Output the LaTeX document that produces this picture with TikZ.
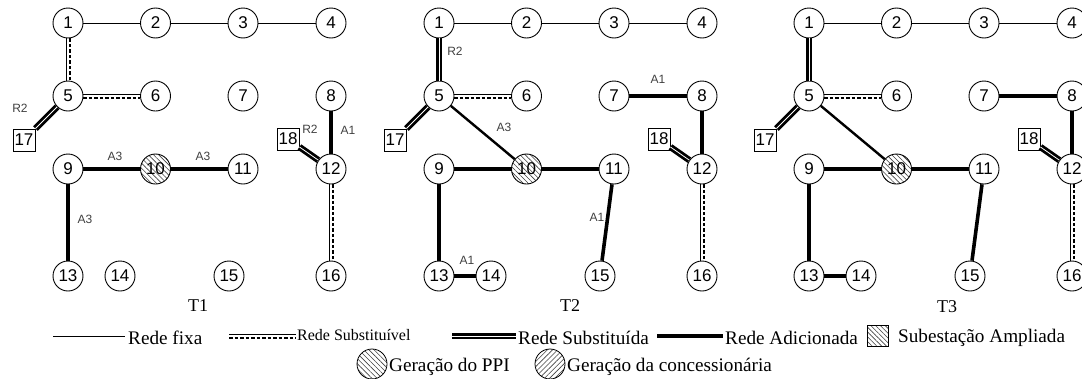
\documentclass[tikz,border=0pt]{standalone}
\usepackage{fontspec}
\setmainfont{Liberation Serif}
\newfontfamily\numfont{Liberation Sans}
\usetikzlibrary{patterns.meta}

\tikzset{
  bus/.style={circle, draw, line width=0.9pt, minimum size=30pt, inner sep=0pt,
    font=\numfont\fontsize{17}{17}\selectfont},
  ppibus/.style={bus, pattern={Lines[angle=-45,distance=3.6pt,line width=0.6pt]},
    pattern color=black!75},
  subbox/.style={rectangle, draw, line width=0.9pt, minimum size=22pt, inner sep=0pt,
    font=\numfont\fontsize{17}{17}\selectfont},
  fixed/.style={line width=1pt},
  added/.style={line width=3.6pt},
  addedlight/.style={line width=2.4pt},
  % two heavy strokes with a thin white gap between them
  replaced/.style={line width=6.4pt, postaction={draw=white, line width=0.8pt}},
  swapthin/.style={line width=1pt},
  swapdash/.style={line width=2.6pt, dash pattern=on 3.5pt off 2pt},
  lbl/.style={font=\numfont\fontsize{12}{12}\selectfont, text=black!75, inner sep=0pt},
  ttl/.style={font=\fontsize{18}{18}\selectfont, inner sep=0pt},
  legtext/.style={font=\fontsize{19.2}{20}\selectfont, inner sep=0pt, anchor=west},
  legsymbol/.style={draw, line width=0.8pt, inner sep=0pt, pattern color=black!75},
}

% bus layout shared by the three stages
\newcommand\placebuses{%
  \node[bus] (1) at (0,23) {1};
  \node[bus] (2) at (87.5,23) {2};
  \node[bus] (3) at (175,23) {3};
  \node[bus] (4) at (263,23) {4};
  \node[bus] (5) at (0,96) {5};
  \node[bus] (6) at (87.5,96) {6};
  \node[bus] (7) at (175,96) {7};
  \node[bus] (8) at (263,96) {8};
  \node[bus] (9) at (0,169) {9};
  \node[ppibus] (10) at (87.5,169) {10};
  \node[bus] (11) at (175,169) {11};
  \node[bus] (12) at (263,169) {12};
  \node[bus] (13) at (0,276) {13};
  \node[bus] (14) at (52,276) {14};
  \node[bus] (15) at (161,276) {15};
  \node[bus] (16) at (263,276) {16};
  \node[subbox] (17) at (-44,140) {17};
  \node[subbox] (18) at (220,139) {18};
}

% lines common to every stage
\newcommand\commonlines{%
  \draw[fixed] (1) -- (2);
  \draw[fixed] (2) -- (3);
  \draw[fixed] (3) -- (4);
  \draw[swapthin] ([yshift=2pt]5.east) -- ([yshift=2pt]6.west);
  \draw[swapdash] ([yshift=-2pt]5.east) -- ([yshift=-2pt]6.west);
  \draw[replaced] (5) -- (17);
  \draw[replaced] (18) -- (12);
  \draw[added] (9) -- (10);
  \draw[added] (10) -- (11);
  \draw[added] (9) -- (13);
  \draw[swapthin] ([xshift=-2pt]12.south) -- ([xshift=-2pt]16.north);
  \draw[swapdash] ([xshift=2pt]12.south) -- ([xshift=2pt]16.north);
}

% lines added from the second stage on
\newcommand\laterlines{%
  \draw[replaced] (1) -- (5);
  \draw[addedlight] (5) -- (10);
  \draw[added] (7) -- (8);
  \draw[added] (8) -- (12);
  \draw[added] (11) -- (15);
  \draw[added] (13) -- (14);
}

\begin{document}
\begin{tikzpicture}[x=1pt, y=-1pt]
\useasboundingbox (0,0) rectangle (1082,378);

% ---- stage T1
\begin{scope}[shift={(68,0)}, name prefix=a-]
  \placebuses
  \commonlines
  \draw[swapthin] ([xshift=-2pt]1.south) -- ([xshift=-2pt]5.north);
  \draw[swapdash] ([xshift=2pt]1.south) -- ([xshift=2pt]5.north);
  \draw[added] (8) -- (12);
  \node[lbl] (r1) at (-48,108) {R2};
  \node[lbl] (r2) at (242,129) {R2};
  \node[lbl] (e1) at (280,130) {A1};
  \node[lbl] (e2) at (47,156) {A3};
  \node[lbl] (e3) at (135,156) {A3};
  \node[lbl] (e4) at (17,219) {A3};
  \node[ttl] (t) at (130,306) {T1};
\end{scope}

% ---- stage T2
\begin{scope}[shift={(439,0)}, name prefix=b-]
  \placebuses
  \commonlines
  \laterlines
  \node[lbl] (r1) at (16,51) {R2};
  \node[lbl] (e1) at (219,79) {A1};
  \node[lbl] (e2) at (65,127) {A3};
  \node[lbl] (e3) at (158,217) {A1};
  \node[lbl] (e4) at (28,260) {A1};
  \node[ttl] (t) at (131,306) {T2};
\end{scope}

% ---- stage T3
\begin{scope}[shift={(809,0)}, name prefix=c-]
  \placebuses
  \commonlines
  \laterlines
  \node[ttl] (t) at (138,307) {T3};
\end{scope}

% ---- legend, first row
\coordinate (f1) at (53,336);
\coordinate (f2) at (125,336);
\draw[fixed] (f1) -- (f2);
\node[legtext] (ftx) at (128,338) {Rede fixa};

\coordinate (s1) at (229,336);
\coordinate (s2) at (296,336);
\draw[swapthin] ([yshift=2pt]s1) -- ([yshift=2pt]s2);
\draw[swapdash] ([yshift=-2pt]s1) -- ([yshift=-2pt]s2);
\node[legtext, font=\fontsize{16}{16}\selectfont] (stx) at (297,335) {Rede Substituível};

\coordinate (d1) at (452,336);
\coordinate (d2) at (516,336);
\draw[replaced] (d1) -- (d2);
\node[legtext] (dtx) at (518,338) {Rede Substituída};

\coordinate (n1) at (657,336);
\coordinate (n2) at (723,336);
\draw[added] (n1) -- (n2);
\node[legtext] (ntx) at (725,338) {Rede Adicionada};

\node[legsymbol, rectangle, minimum size=21pt,
  pattern={Lines[angle=-45,distance=3.4pt,line width=0.6pt]}] (sq) at (878,336) {};
\node[legtext] (sqtx) at (898,338) {Subestação Ampliada};

% ---- legend, second row
\node[legsymbol, circle, minimum size=30pt,
  pattern={Lines[angle=-45,distance=3.6pt,line width=0.6pt]}] (pc) at (372,364) {};
\node[legtext] (ptx) at (389,367) {Geração do PPI};

\node[legsymbol, circle, minimum size=30pt,
  pattern={Lines[angle=45,distance=3.6pt,line width=0.6pt]}] (cc) at (550,364) {};
\node[legtext] (ctx) at (567,367) {Geração da concessionária};
\end{tikzpicture}
\end{document}
